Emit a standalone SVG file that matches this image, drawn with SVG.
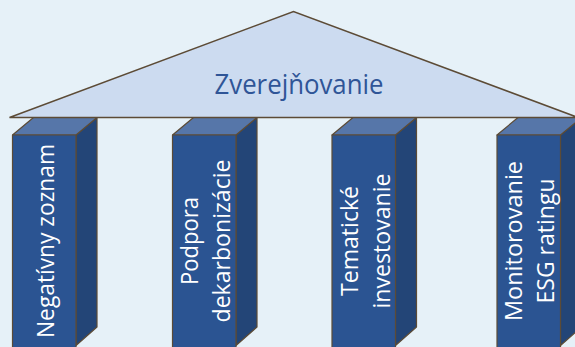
<svg xmlns="http://www.w3.org/2000/svg" width="575" height="347" viewBox="0 0 575 347">
<style>
.front{fill:#2B5492;stroke:#5C4B36;stroke-width:1.2;stroke-linejoin:round}
.top{fill:#5676A9;stroke:#5C4B36;stroke-width:1.2;stroke-linejoin:round}
.side{fill:#234577;stroke:#5C4B36;stroke-width:1.2;stroke-linejoin:round}
.roof{fill:#CCDBF0;stroke:#5C4B36;stroke-width:1.5;stroke-linejoin:miter}
.pt{font-family:"Open Sans","Noto Sans","Liberation Sans",sans-serif;font-size:23.5px;fill:#FFFFFF;text-anchor:middle}
.rt{font-family:"Open Sans","Noto Sans","Liberation Sans",sans-serif;font-size:27.5px;fill:#2F5597;text-anchor:middle}
</style>
<rect x="0" y="0" width="575" height="347" fill="#E6F1F8"/>
<g id="pillar1">
<polygon class="side" points="76,135 97,117.5 97,327 76,345.5"/>
<polygon class="top" points="12.5,135 33.5,117.5 97,117.5 76,135"/>
<rect class="front" x="12.5" y="135" width="63.5" height="220"/>
<g transform="translate(44,241) rotate(-90)"><text class="pt" x="0" y="9.5" textLength="194" lengthAdjust="spacingAndGlyphs">Negatívny zoznam</text></g>
</g>
<g id="pillar2">
<polygon class="side" points="236,135 257,117.5 257,327 236,345.5"/>
<polygon class="top" points="172.5,135 193.5,117.5 257,117.5 236,135"/>
<rect class="front" x="172.5" y="135" width="63.5" height="220"/>
<g transform="translate(204,241) rotate(-90)"><text class="pt" x="0" y="-6.5" textLength="88" lengthAdjust="spacingAndGlyphs">Podpora</text><text class="pt" x="0" y="26" textLength="163" lengthAdjust="spacingAndGlyphs">dekarbonizácie</text></g>
</g>
<g id="pillar3">
<polygon class="side" points="395.5,135 416.5,117.5 416.5,327 395.5,345.5"/>
<polygon class="top" points="332,135 353,117.5 416.5,117.5 395.5,135"/>
<rect class="front" x="332" y="135" width="63.5" height="220"/>
<g transform="translate(363.5,241) rotate(-90)"><text class="pt" x="0" y="-5.5" textLength="110" lengthAdjust="spacingAndGlyphs">Tematické</text><text class="pt" x="0" y="26.5" textLength="135" lengthAdjust="spacingAndGlyphs">investovanie</text></g>
</g>
<g id="pillar4">
<polygon class="side" points="560.5,135 581.5,117.5 581.5,327 560.5,345.5"/>
<polygon class="top" points="497,135 518,117.5 581.5,117.5 560.5,135"/>
<rect class="front" x="497" y="135" width="63.5" height="220"/>
<g transform="translate(528.8,241) rotate(-90)"><text class="pt" x="0" y="-6.8" textLength="160" lengthAdjust="spacingAndGlyphs">Monitorovanie</text><text class="pt" x="0" y="25.7" textLength="125" lengthAdjust="spacingAndGlyphs">ESG ratingu</text></g>
</g>
<g id="roof">
<polygon class="roof" points="9.5,117.5 293.5,11.5 578,117.5"/>
<text class="rt" x="299" y="93.5" textLength="169" lengthAdjust="spacingAndGlyphs">Zverejňovanie</text>
</g>
<g id="connectors"></g>
</svg>
